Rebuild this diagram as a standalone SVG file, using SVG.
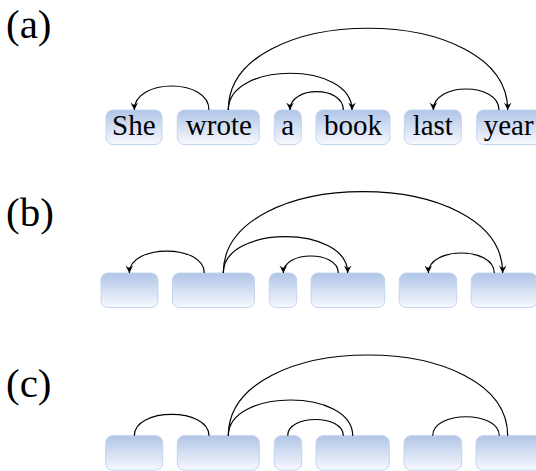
<svg xmlns="http://www.w3.org/2000/svg" width="536" height="471" viewBox="0 0 536 471">
<defs>
<linearGradient id="g" x1="0" y1="0" x2="0" y2="1">
<stop offset="0" stop-color="#b0c5e7"/>
<stop offset="1" stop-color="#f7f9fe"/>
</linearGradient>
<marker id="ah" markerUnits="userSpaceOnUse" markerWidth="12" markerHeight="12" viewBox="-9 -6 12 12" refX="0" refY="0" orient="auto">
<path d="M0,0 L-7.5,-3.8 Q-5,-1 -5.2,0 Q-5,1 -7.5,3.8 Z" fill="#000"/>
</marker>
</defs>
<style>
.box{fill:url(#g);stroke:#c3d4ee;stroke-width:1}
.w{font-family:"Liberation Serif",serif;font-size:29px;text-anchor:middle;fill:#000}
.lab{font-family:"Liberation Serif",serif;font-size:41px;fill:#000}
.arc{fill:none;stroke:#000;stroke-width:1.2}
.arr{marker-end:url(#ah)}
</style>
<rect width="536" height="471" fill="#fff"/>
<text class="lab" x="6" y="38">(a)</text>
<text class="lab" x="6" y="226">(b)</text>
<text class="lab" x="6" y="397">(c)</text>

<g id="a-she"><rect class="box" x="106" y="110" width="56" height="34.5" rx="7"/><text class="w" x="133.8" y="135">She</text></g>
<g id="a-wrote"><rect class="box" x="177.3" y="110" width="82" height="34.5" rx="7"/><text class="w" x="218.8" y="135">wrote</text></g>
<g id="a-a"><rect class="box" x="274.3" y="110" width="27" height="34.5" rx="7"/><text class="w" x="287.8" y="135">a</text></g>
<g id="a-book"><rect class="box" x="316" y="110" width="74" height="34.5" rx="7"/><text class="w" x="353" y="135">book</text></g>
<g id="a-last"><rect class="box" x="404.3" y="110" width="57" height="34.5" rx="7"/><text class="w" x="432.8" y="135">last</text></g>
<g id="a-year"><rect class="box" x="476.7" y="110" width="66" height="34.5" rx="7"/><text class="w" x="508.7" y="135">year</text></g>

<g id="b-1"><rect class="box" x="101" y="273" width="57" height="34.5" rx="7"/></g>
<g id="b-2"><rect class="box" x="172.5" y="273" width="82" height="34.5" rx="7"/></g>
<g id="b-3"><rect class="box" x="269.3" y="273" width="27.4" height="34.5" rx="7"/></g>
<g id="b-4"><rect class="box" x="311" y="273" width="73.7" height="34.5" rx="7"/></g>
<g id="b-5"><rect class="box" x="399.3" y="273" width="57.4" height="34.5" rx="7"/></g>
<g id="b-6"><rect class="box" x="471.3" y="273" width="66" height="34.5" rx="7"/></g>

<g id="c-1"><rect class="box" x="105.7" y="435.7" width="57" height="34.5" rx="7"/></g>
<g id="c-2"><rect class="box" x="177.3" y="435.7" width="82" height="34.5" rx="7"/></g>
<g id="c-3"><rect class="box" x="274.3" y="435.7" width="27.4" height="34.5" rx="7"/></g>
<g id="c-4"><rect class="box" x="316" y="435.7" width="73.3" height="34.5" rx="7"/></g>
<g id="c-5"><rect class="box" x="404" y="435.7" width="57.7" height="34.5" rx="7"/></g>
<g id="c-6"><rect class="box" x="476" y="435.7" width="66" height="34.5" rx="7"/></g>

<g id="connectors">
<path class="arc arr" d="M209,110 C209,78 134.3,78 134.3,110"/>
<path class="arc arr" d="M228.3,110 C228.3,61 352,61 352,110"/>
<path class="arc arr" d="M228.3,110 C228.3,1 507.7,1 507.7,110"/>
<path class="arc arr" d="M343.3,110 C343.3,85.6 290,85.6 290,110"/>
<path class="arc arr" d="M499,110 C499,82 433.3,82 433.3,110"/>

<path class="arc arr" d="M204.3,273 C204.3,243.7 129.3,243.7 129.3,273"/>
<path class="arc arr" d="M223.3,273 C223.3,224.6 347.7,224.6 347.7,273"/>
<path class="arc arr" d="M223.3,273 C223.3,164.6 502.7,164.6 502.7,273"/>
<path class="arc arr" d="M338.3,273 C338.3,250.3 283.3,250.3 283.3,273"/>
<path class="arc arr" d="M494.3,273 C494.3,246.3 428.3,246.3 428.3,273"/>

<path class="arc" d="M134.3,435.7 C134.3,407.2 209,407.2 209,435.7"/>
<path class="arc" d="M228.3,435.7 C228.3,388.1 352.7,388.1 352.7,435.7"/>
<path class="arc" d="M228.3,435.7 C228.3,328.1 507.7,328.1 507.7,435.7"/>
<path class="arc" d="M287.7,435.7 C287.7,414.1 343.3,414.1 343.3,435.7"/>
<path class="arc" d="M432.7,435.7 C432.7,410.4 499.3,410.4 499.3,435.7"/>
</g>
</svg>
